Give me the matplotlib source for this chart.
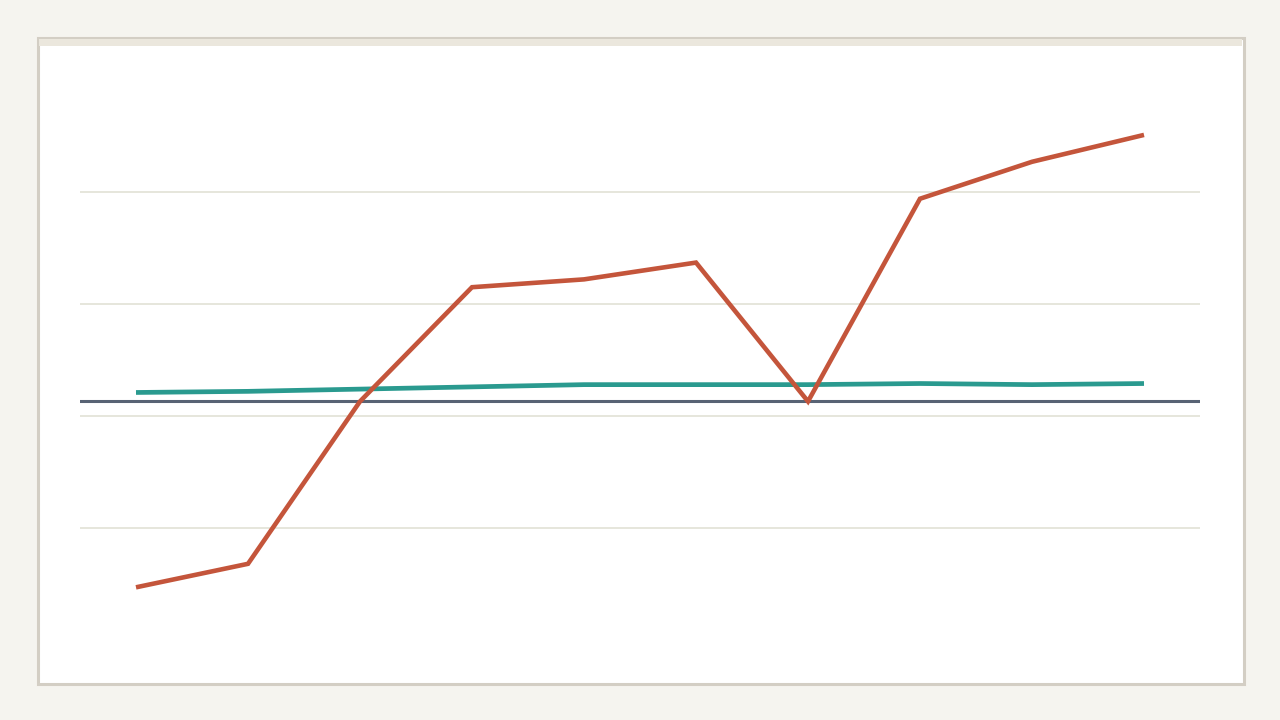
import matplotlib
matplotlib.use('Agg')
from matplotlib import pyplot as plt
from matplotlib.patches import Rectangle

# data (arbitrary units, gridlines every 10)
periods = list(range(10))
series_red = [-15.3, -13.2, 1.3, 11.5, 12.2, 13.7, 1.3, 19.4, 22.7, 25.1]
series_teal = [2.1, 2.2, 2.4, 2.6, 2.8, 2.8, 2.8, 2.9, 2.8, 2.9]
baseline = 1.34
grid_values = [-10, 0, 10, 20]

W, H = 1280, 720
PAGE = '#f5f4ef'
BORDER = '#d3cec4'
BAND = '#ebe7dd'
GRID = '#e2e1d6'
SLATE = '#586374'
TEAL = '#2a9a8f'
RED = '#c4553b'


def px(x0, y0, x1, y1):
    # pixel box (top-left origin) -> figure fraction rect
    return (x0 / W, 1 - y1 / H, (x1 - x0) / W, (y1 - y0) / H)


def main():
    fig = plt.figure(figsize=(12.8, 7.2), dpi=100, facecolor=PAGE)

    # card, drawn beneath the axes
    x, y, w, h = px(37.5, 37.5, 1243.5, 683.5)
    fig.patches.append(Rectangle((x, y), w, h, transform=fig.transFigure,
                                 facecolor='white', edgecolor=BORDER,
                                 linewidth=2.2, zorder=-2))
    x, y, w, h = px(39, 39, 1242, 46)
    fig.patches.append(Rectangle((x, y), w, h, transform=fig.transFigure,
                                 facecolor=BAND, edgecolor='none', zorder=-1))

    ax = fig.add_axes(px(80, 60, 1200, 660))
    ax.set_facecolor('none')
    for s in ax.spines.values():
        s.set_visible(False)

    ax.set_xlim(-0.5, 9.5)
    ax.set_ylim(-21.79, 31.79)
    ax.set_yticks(grid_values)
    ax.set_xticks([])
    ax.tick_params(left=False, labelleft=False)
    ax.grid(axis='y', color=GRID, linewidth=1.2)
    ax.set_axisbelow(True)

    ax.axhline(baseline, color=SLATE, linewidth=2.2, zorder=2)
    ax.plot(periods, series_teal, color=TEAL, linewidth=3.4,
            solid_capstyle='butt', zorder=3)
    ax.plot(periods, series_red, color=RED, linewidth=3.3,
            solid_joinstyle='miter', solid_capstyle='butt', zorder=4)

    fig.savefig('out.png', dpi=100, facecolor=PAGE)
    plt.close(fig)


if __name__ == '__main__':
    main()
